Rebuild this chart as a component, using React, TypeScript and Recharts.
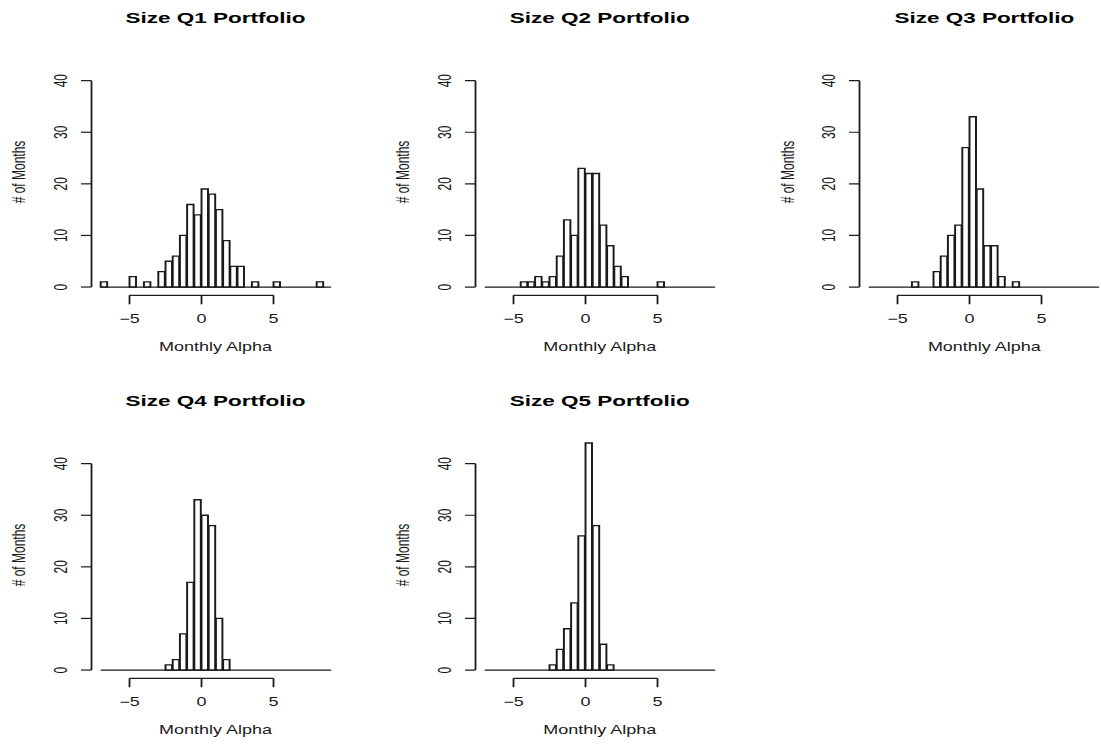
import React from 'react';
import { ComposedChart, Bar, XAxis, YAxis, ReferenceLine } from 'recharts';

// histogram bins: 0.5 wide, first break at -7 (last break = 9)
const BIN_START = -7;
const BIN_WIDTH = 0.5;

const q1Counts = [1, 0, 0, 0, 2, 0, 1, 0, 3, 5, 6, 10, 16, 14, 19, 18, 15, 9, 4, 4, 0, 1, 0, 0, 1, 0, 0, 0, 0, 0, 1, 0];
const q2Counts = [0, 0, 0, 0, 0, 1, 1, 2, 1, 2, 6, 13, 10, 23, 22, 22, 12, 8, 4, 2, 0, 0, 0, 0, 1, 0, 0, 0, 0, 0, 0, 0];
const q3Counts = [0, 0, 0, 0, 0, 0, 1, 0, 0, 3, 6, 10, 12, 27, 33, 19, 8, 8, 2, 0, 1, 0, 0, 0, 0, 0, 0, 0, 0, 0, 0, 0];
const q4Counts = [0, 0, 0, 0, 0, 0, 0, 0, 0, 1, 2, 7, 17, 33, 30, 28, 10, 2, 0, 0, 0, 0, 0, 0, 0, 0, 0, 0, 0, 0, 0, 0];
const q5Counts = [0, 0, 0, 0, 0, 0, 0, 0, 0, 1, 4, 8, 13, 26, 44, 28, 5, 1, 0, 0, 0, 0, 0, 0, 0, 0, 0, 0, 0, 0, 0, 0];

const titles = ['Size Q1 Portfolio', 'Size Q2 Portfolio', 'Size Q3 Portfolio', 'Size Q4 Portfolio', 'Size Q5 Portfolio'];
const xTicks = [-5, 0, 5];
const yTicks = [0, 10, 20, 30, 40];
const X_LABEL = 'Monthly Alpha';
const Y_LABEL = '# of Months';

const INK = '#1a1a1a';
const FONT = '"Liberation Sans", Arial, Helvetica, sans-serif';

// the picture is stretched 1.5x horizontally, so draw narrow and scale
const STRETCH = 1.5;
const PAGE_W = 1101;
const PAGE_H = 745;

const PX_PER_UNIT = 9.6;
const PX_PER_COUNT = 5.16;
const COL_PLOT_LEFT = [60.7, 316.9, 573.3];
const ROW_STEP = 383;
const PLOT_BOTTOM = 295.3;

const CHART_W = 240;
const Y_AXIS_W = 40;
const MARGIN_LEFT = 20;
const X_AXIS_H = 30;

const lastBreak = BIN_START + BIN_WIDTH * q1Counts.length;
const pad = 0.04 * (lastBreak - BIN_START);
const xDomain = [BIN_START - pad, lastBreak + pad];
const yDomain = [-1.6, 48];

const plotW = (xDomain[1] - xDomain[0]) * PX_PER_UNIT;
const plotH = (yDomain[1] - yDomain[0]) * PX_PER_COUNT;

const fmt = (v: number) => (v < 0 ? `\u2212${Math.abs(v)}` : `${v}`);

function YTick(props: any) {
  const { x, y, payload } = props;
  return (
    <text
      x={x}
      y={y}
      dy="0.36em"
      transform={`rotate(-90 ${x} ${y})`}
      textAnchor="middle"
      fontSize={12}
      fontFamily={FONT}
      fill={INK}
    >
      {payload.value}
    </text>
  );
}

function Panel({ counts, left, top }: { counts: number[]; left: number; top: number }) {
  const data = counts.map((c, i) => ({
    mid: BIN_START + BIN_WIDTH * (i + 0.5),
    count: c,
  }));
  const marginTop = PLOT_BOTTOM - plotH;
  const chartH = ROW_STEP;
  return (
    <div style={{ position: 'absolute', left, top }}>
      <ComposedChart
        width={CHART_W}
        height={chartH}
        data={data}
        margin={{
          top: marginTop,
          right: CHART_W - MARGIN_LEFT - Y_AXIS_W - plotW,
          left: MARGIN_LEFT,
          bottom: chartH - PLOT_BOTTOM - X_AXIS_H,
        }}
      >
        <XAxis
          dataKey="mid"
          type="number"
          domain={xDomain}
          ticks={xTicks}
          interval={0}
          height={X_AXIS_H}
          axisLine={false}
          tickLine={{ stroke: INK, strokeWidth: 1.2 }}
          tickSize={9}
          tickMargin={9.7}
          tickFormatter={fmt}
          tick={{ fill: INK, fontSize: 12, fontFamily: FONT }}
        />
        <YAxis
          type="number"
          domain={yDomain}
          ticks={yTicks}
          interval={0}
          width={Y_AXIS_W}
          axisLine={false}
          tickLine={{ stroke: INK, strokeWidth: 1.2 }}
          tickSize={7}
          tickMargin={13.7}
          tick={<YTick />}
        />
        <ReferenceLine
          segment={[{ x: BIN_START, y: 0 }, { x: lastBreak, y: 0 }]}
          stroke={INK}
          strokeWidth={1.2}
          ifOverflow="visible"
        />
        <ReferenceLine
          segment={[{ x: xTicks[0], y: yDomain[0] }, { x: xTicks[xTicks.length - 1], y: yDomain[0] }]}
          stroke={INK}
          strokeWidth={1.2}
          ifOverflow="visible"
        />
        <ReferenceLine
          segment={[{ x: xDomain[0], y: yTicks[0] }, { x: xDomain[0], y: yTicks[yTicks.length - 1] }]}
          stroke={INK}
          strokeWidth={1.2}
          ifOverflow="visible"
        />
        <Bar
          dataKey="count"
          barSize={BIN_WIDTH * PX_PER_UNIT}
          fill="#ffffff"
          stroke={INK}
          strokeWidth={1.3}
          isAnimationActive={false}
        />
      </ComposedChart>
    </div>
  );
}

export default function App() {
  const allCounts = [q1Counts, q2Counts, q3Counts, q4Counts, q5Counts];

  return (
    <div
      style={{
        position: 'absolute',
        left: 0,
        top: 0,
        width: PAGE_W,
        height: PAGE_H,
        overflow: 'hidden',
        background: '#ffffff',
      }}
    >
      <div
        style={{
          position: 'relative',
          width: PAGE_W / STRETCH,
          height: PAGE_H,
          transform: `scaleX(${STRETCH})`,
          transformOrigin: '0 0',
        }}
      >
        {allCounts.map((counts, i) => {
          const col = i % 3;
          const row = Math.floor(i / 3);
          return (
            <Panel
              key={titles[i]}
              counts={counts}
              left={COL_PLOT_LEFT[col] - MARGIN_LEFT - Y_AXIS_W}
              top={row * ROW_STEP}
            />
          );
        })}
        <svg
          width={PAGE_W / STRETCH}
          height={PAGE_H}
          style={{ position: 'absolute', left: 0, top: 0, pointerEvents: 'none' }}
          fontFamily={FONT}
          fill={INK}
        >
          {titles.map((t, i) => {
            const col = i % 3;
            const row = Math.floor(i / 3);
            const cx = COL_PLOT_LEFT[col] + plotW / 2;
            const yOff = row * ROW_STEP;
            const lx = COL_PLOT_LEFT[col] - 48.5;
            const ly = 172 + yOff;
            return (
              <g key={t}>
                <text x={cx} y={17.2 + yOff} dy="0.36em" textAnchor="middle" fontSize={15} fontWeight="bold" fill="#000">
                  {t}
                </text>
                <text x={cx} y={346.7 + yOff} dy="0.36em" textAnchor="middle" fontSize={12}>
                  {X_LABEL}
                </text>
                <text
                  x={lx}
                  y={ly}
                  dy="0.36em"
                  textAnchor="middle"
                  fontSize={12}
                  transform={`rotate(-90 ${lx} ${ly})`}
                >
                  {Y_LABEL}
                </text>
              </g>
            );
          })}
        </svg>
      </div>
    </div>
  );
}
